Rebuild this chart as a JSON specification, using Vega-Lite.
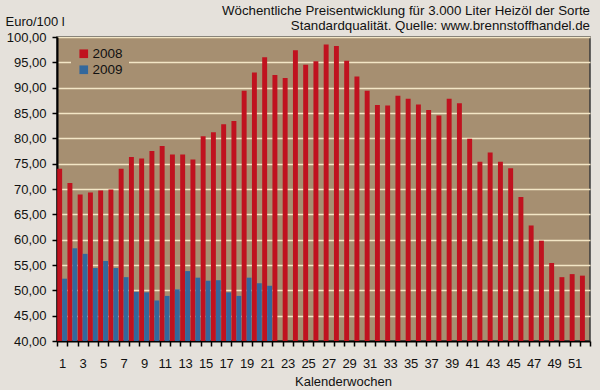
{
  "$schema": "https://vega.github.io/schema/vega-lite/v6.json",
  "width": 533,
  "height": 304,
  "autosize": {"type": "none"},
  "padding": {"left": 57, "top": 37, "right": 10, "bottom": 49},
  "background": "#e5e1db",
  "title": {
    "text": ["Wöchentliche Preisentwicklung für 3.000 Liter Heizöl der Sorte", "Standardqualität. Quelle: www.brennstoffhandel.de"],
    "anchor": "end",
    "frame": "group",
    "orient": "top",
    "font": "Liberation Sans",
    "fontSize": 13.3,
    "fontWeight": "normal",
    "color": "#111",
    "lineHeight": 15,
    "offset": 4,
    "dy": 21
  },
  "config": {
    "font": "Liberation Sans",
    "view": {"fill": "#a68f71", "stroke": "#3a3a3a", "strokeWidth": 1.5}
  },
  "data": {
    "values": [
      {"week": 1, "year": "2008", "value": 74.0},
      {"week": 2, "year": "2008", "value": 71.2},
      {"week": 3, "year": "2008", "value": 68.9},
      {"week": 4, "year": "2008", "value": 69.3},
      {"week": 5, "year": "2008", "value": 69.7},
      {"week": 6, "year": "2008", "value": 69.9},
      {"week": 7, "year": "2008", "value": 74.0},
      {"week": 8, "year": "2008", "value": 76.3},
      {"week": 9, "year": "2008", "value": 76.0},
      {"week": 10, "year": "2008", "value": 77.5},
      {"week": 11, "year": "2008", "value": 78.5},
      {"week": 12, "year": "2008", "value": 76.8},
      {"week": 13, "year": "2008", "value": 76.8},
      {"week": 14, "year": "2008", "value": 75.8},
      {"week": 15, "year": "2008", "value": 80.4},
      {"week": 16, "year": "2008", "value": 81.2},
      {"week": 17, "year": "2008", "value": 82.8},
      {"week": 18, "year": "2008", "value": 83.4},
      {"week": 19, "year": "2008", "value": 89.4},
      {"week": 20, "year": "2008", "value": 93.0},
      {"week": 21, "year": "2008", "value": 96.0},
      {"week": 22, "year": "2008", "value": 92.5},
      {"week": 23, "year": "2008", "value": 91.9},
      {"week": 24, "year": "2008", "value": 97.4},
      {"week": 25, "year": "2008", "value": 94.5},
      {"week": 26, "year": "2008", "value": 95.2},
      {"week": 27, "year": "2008", "value": 98.5},
      {"week": 28, "year": "2008", "value": 98.2},
      {"week": 29, "year": "2008", "value": 95.3},
      {"week": 30, "year": "2008", "value": 92.2},
      {"week": 31, "year": "2008", "value": 89.4},
      {"week": 32, "year": "2008", "value": 86.6},
      {"week": 33, "year": "2008", "value": 86.5},
      {"week": 34, "year": "2008", "value": 88.4},
      {"week": 35, "year": "2008", "value": 87.8},
      {"week": 36, "year": "2008", "value": 86.7},
      {"week": 37, "year": "2008", "value": 85.6},
      {"week": 38, "year": "2008", "value": 84.5},
      {"week": 39, "year": "2008", "value": 87.8},
      {"week": 40, "year": "2008", "value": 86.9},
      {"week": 41, "year": "2008", "value": 79.9},
      {"week": 42, "year": "2008", "value": 75.4},
      {"week": 43, "year": "2008", "value": 77.2},
      {"week": 44, "year": "2008", "value": 75.4},
      {"week": 45, "year": "2008", "value": 74.1},
      {"week": 46, "year": "2008", "value": 68.4},
      {"week": 47, "year": "2008", "value": 62.8},
      {"week": 48, "year": "2008", "value": 59.8},
      {"week": 49, "year": "2008", "value": 55.4},
      {"week": 50, "year": "2008", "value": 52.6},
      {"week": 51, "year": "2008", "value": 53.2},
      {"week": 52, "year": "2008", "value": 52.9},
      {"week": 1, "year": "2009", "value": 52.3},
      {"week": 2, "year": "2009", "value": 58.3},
      {"week": 3, "year": "2009", "value": 57.2},
      {"week": 4, "year": "2009", "value": 54.4},
      {"week": 5, "year": "2009", "value": 55.8},
      {"week": 6, "year": "2009", "value": 54.4},
      {"week": 7, "year": "2009", "value": 52.6},
      {"week": 8, "year": "2009", "value": 49.7},
      {"week": 9, "year": "2009", "value": 49.6},
      {"week": 10, "year": "2009", "value": 48.0},
      {"week": 11, "year": "2009", "value": 48.9},
      {"week": 12, "year": "2009", "value": 50.2},
      {"week": 13, "year": "2009", "value": 53.8},
      {"week": 14, "year": "2009", "value": 52.5},
      {"week": 15, "year": "2009", "value": 51.9},
      {"week": 16, "year": "2009", "value": 52.0},
      {"week": 17, "year": "2009", "value": 49.6},
      {"week": 18, "year": "2009", "value": 48.9},
      {"week": 19, "year": "2009", "value": 52.5},
      {"week": 20, "year": "2009", "value": 51.4},
      {"week": 21, "year": "2009", "value": 50.9}
    ]
  },
  "mark": {"type": "bar", "clip": true},
  "encoding": {
    "x": {
      "field": "week",
      "type": "ordinal",
      "scale": {"paddingInner": 0, "paddingOuter": 0},
      "axis": {
        "title": "Kalenderwochen",
        "titleFont": "Liberation Sans",
        "titleFontSize": 13,
        "titleFontWeight": "normal",
        "titleColor": "#111",
        "titleX": 286,
        "titlePadding": 5,
        "labelAngle": 0,
        "labelFontSize": 13,
        "labelColor": "#111",
        "labelOverlap": false,
        "labelPadding": 11,
        "labelExpr": "datum.value % 2 == 1 ? datum.label : ''",
        "tickBand": "extent",
        "tickColor": "#000",
        "tickWidth": 1.5,
        "tickSize": 5,
        "domainColor": "#000",
        "domainWidth": 2,
        "grid": false
      }
    },
    "xOffset": {
      "field": "year",
      "type": "nominal",
      "scale": {"paddingInner": 0, "paddingOuter": 0.04}
    },
    "y": {
      "field": "value",
      "type": "quantitative",
      "scale": {"domain": [40, 100], "zero": false, "nice": false},
      "axis": {
        "title": "Euro/100 l",
        "titleAngle": 0,
        "titleAlign": "left",
        "titleBaseline": "alphabetic",
        "titleX": -52,
        "titleY": -12,
        "titleFont": "Liberation Sans",
        "titleFontSize": 13,
        "titleFontWeight": "normal",
        "titleColor": "#111",
        "values": [40, 45, 50, 55, 60, 65, 70, 75, 80, 85, 90, 95, 100],
        "labelExpr": "replace(format(datum.value, '.2f'), '.', ',')",
        "labelFontSize": 13,
        "labelColor": "#111",
        "labelPadding": 6,
        "tickColor": "#000",
        "tickWidth": 1.5,
        "tickSize": 5,
        "domainColor": "#000",
        "domainWidth": 2,
        "grid": true,
        "gridColor": "#f3e6c6",
        "gridWidth": 1.5,
        "gridOpacity": 1
      }
    },
    "y2": {"datum": 40},
    "color": {
      "field": "year",
      "type": "nominal",
      "scale": {"domain": ["2008", "2009"], "range": ["#c0121f", "#33689c"]},
      "legend": {
        "title": null,
        "orient": "none",
        "legendX": 14,
        "legendY": 4,
        "fillColor": "#a68f71",
        "padding": 6,
        "symbolType": "square",
        "symbolSize": 75,
        "symbolStrokeWidth": 0,
        "labelFontSize": 13.5,
        "labelColor": "#111",
        "labelOffset": 2,
        "rowPadding": 1
      }
    }
  }
}
